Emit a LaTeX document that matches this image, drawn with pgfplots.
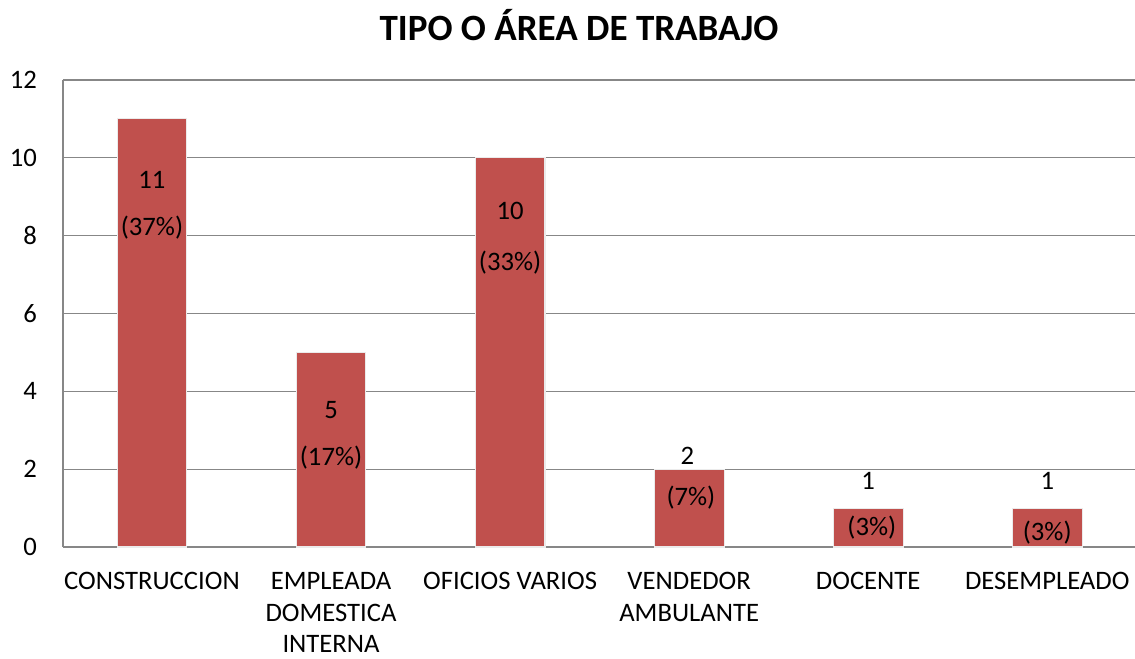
\documentclass[border=0pt]{standalone}
\usepackage{fontspec}
\setmainfont{Carlito}
\usepackage{pgfplots}
\pgfplotsset{compat=1.18}
\definecolor{barred}{HTML}{C0504D}
\definecolor{gridgray}{HTML}{878787}
\begin{document}
\begin{tikzpicture}
\begin{axis}[
  scale only axis,
  width=804pt, height=350.25pt,
  xmin=-0.497, xmax=5.49,
  ymin=0, ymax=12,
  ytick={0,2,...,12},
  xtick={0,1,2,3,4,5},
  xticklabels={CONSTRUCCION,{EMPLEADA\\DOMESTICA\\INTERNA},OFICIOS VARIOS,{VENDEDOR\\AMBULANTE},DOCENTE,DESEMPLEADO},
  x tick label style={align=center, font=\fontsize{20}{23.8}\selectfont, yshift=-15.5pt, anchor=north},
  y tick label style={font=\fontsize{20}{22}\selectfont, xshift=-16pt},
  /pgf/number format/assume math mode=true,
  major tick length=0pt,
  axis lines=left,
  axis line style={-, draw=gridgray, line width=0.9pt},
  ymajorgrids,
  grid style={draw=gridgray, line width=0.9pt},
  clip=false,
]
\addplot[ybar, bar width=0.39, fill=barred, draw=white!92!black, line width=0.8pt] coordinates {(0,11) (1,5) (2,10) (3,2) (4,1) (5,1)};
\begin{scope}[every node/.style={font=\fontsize{20}{22}\selectfont}]
\node at (axis cs:0,9.43) {11};
\node at (axis cs:0,8.20) {(37\%)};
\node at (axis cs:1,3.52) {5};
\node at (axis cs:1,2.31) {(17\%)};
\node at (axis cs:2,8.63) {10};
\node at (axis cs:2,7.32) {(33\%)};
\node at (axis cs:2.99,2.34) {2};
\node at (axis cs:3.01,1.28) {(7\%)};
\node at (axis cs:4,1.70) {1};
\node at (axis cs:4.02,0.49) {(3\%)};
\node at (axis cs:5,1.70) {1};
\node at (axis cs:5,0.36) {(3\%)};
\end{scope}
\end{axis}
\node[font=\fontsize{27.8}{32}\selectfont\bfseries] at (387pt,391.5pt) {TIPO O ÁREA DE TRABAJO};
\pgfresetboundingbox
\useasboundingbox (-47.25pt,-83.25pt) rectangle (804pt,410.25pt);
\end{tikzpicture}
\end{document}
